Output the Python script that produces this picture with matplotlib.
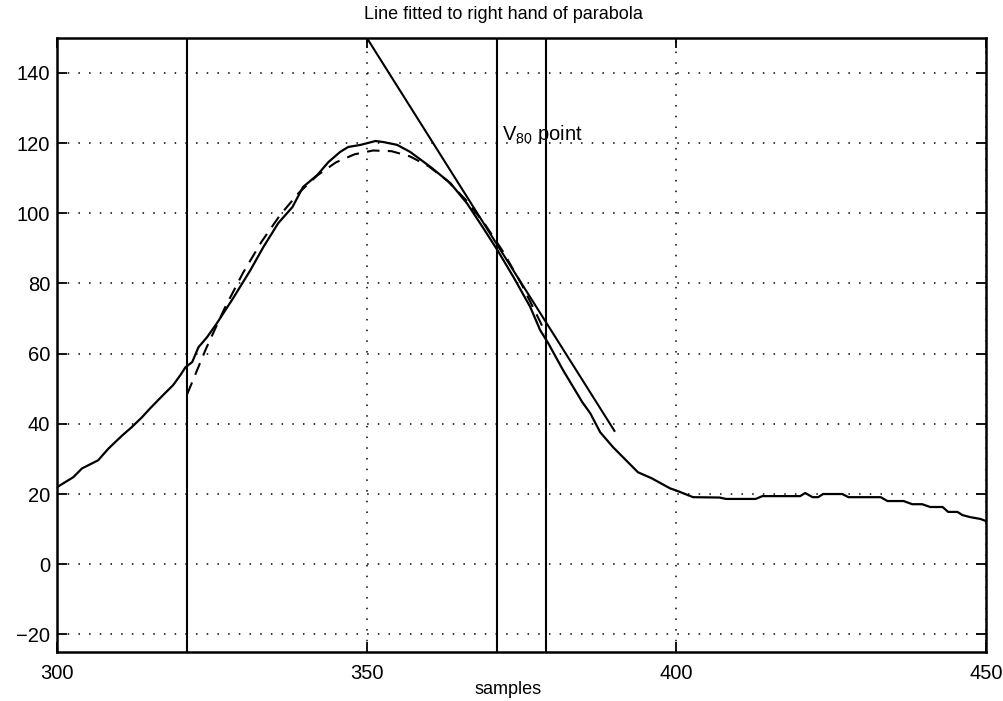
import matplotlib.pyplot as plt

plt.rcParams['font.family'] = ['Liberation Sans', 'DejaVu Sans']
plt.rcParams['mathtext.default'] = 'regular'

# --[measured signal]----------------------------------------------------------
sample_x = [300, 302.6, 304, 306.6, 308.3, 310.5, 312, 313.7, 315, 317.1,
            318.7, 319.9, 320.7, 321.8, 322.8, 324.2, 325.8, 328.3, 331.2, 333.3,
            335.7, 338, 339.7, 342, 343.8, 345.7, 347, 349, 351.4, 352.7,
            354.9, 357, 360.3, 363.5, 366.2, 368.7, 371.1, 373.7, 376.4, 378,
            379.3, 381.7, 384.8, 386.1, 387.7, 389.8, 393.8, 396, 399, 400,
            402.7, 407, 408, 410.3, 412.8, 413.9, 420, 420.8, 422, 422.9,
            423.7, 426.8, 427.8, 433, 434.1, 436.7, 438.1, 439.7, 441, 443,
            443.9, 445.4, 446.2, 447.5, 449.1, 450]
sample_y = [22, 24.8, 27.3, 29.6, 33, 36.7, 39, 41.9, 44.4, 48.2,
            51, 53.9, 56.1, 57.6, 61.8, 64.7, 68.7, 75.5, 83.8, 90.4,
            97.2, 101.8, 107.5, 110.9, 114.6, 117.5, 118.9, 119.5, 120.6, 120.3,
            119.5, 117.5, 113.2, 108.6, 102.8, 96.1, 89.5, 81.8, 73.3, 66.7,
            63, 55.3, 46.2, 43, 37.6, 33.3, 26.2, 24.5, 21.6, 21,
            19.1, 19, 18.6, 18.6, 18.6, 19.4, 19.4, 20.3, 19.1, 19.1,
            20, 20, 19.1, 19.1, 18, 18, 17.1, 17.1, 16.3, 16.3,
            14.9, 14.9, 14, 13.4, 12.9, 12.3]

# --[parabola fit between the outer markers]-----------------------------------
para_x = [321, 324, 327, 330, 333, 336, 339, 342, 345, 348, 351, 354, 357,
          360, 363, 366, 369, 372, 375, 378, 379]
para_y = [48.5, 61.3, 72.8, 83, 91.9, 99.5, 105.8, 110.8, 114.5, 116.8, 117.9,
          117.7, 116.2, 113.4, 109.3, 103.8, 97.1, 89.1, 79.8, 69.1, 65.3]

# --[straight line on the falling side]----------------------------------------
line_x = [350, 390]
line_y = [150, 38]

# --[marker positions]---------------------------------------------------------
markers = [321, 371, 379]

xticks = [300, 350, 400, 450]
yticks = [-20, 0, 20, 40, 60, 80, 100, 120, 140]

# --[plot]---------------------------------------------------------------------
fig = plt.figure(figsize=(10.04, 7.01), dpi=100)
ax = fig.add_axes([0.057, 0.07, 0.925, 0.876])

for m in markers:
    ax.axvline(m, color='black', lw=1.5)
ax.plot(sample_x, sample_y, color='black', lw=1.6)
ax.plot(para_x, para_y, color='black', lw=1.5, linestyle=(0, (6, 4)))
ax.plot(line_x, line_y, color='black', lw=1.5)

ax.text(371.8, 120.8, r'V$_{80}$ point', fontsize=14.5, va='baseline')

ax.set_xlim(300, 450)
ax.set_ylim(-25, 150)
ax.set_xticks(xticks)
ax.set_yticks(yticks)
ax.grid(True, color='black', lw=1.1, linestyle=(0, (1, 6)))
ax.tick_params(direction='in', length=7, width=1.3, labelsize=14.5,
               top=True, right=True, pad=5)
ax.tick_params(axis='x', pad=9)
for s in ax.spines.values():
    s.set_linewidth(1.8)

# title and x label sit a little left of the axes centre
fig.text(0.501, 0.98, 'Line fitted to right hand of parabola', fontsize=13,
         ha='center', va='center')
fig.text(0.506, 0.016, 'samples', fontsize=13, ha='center', va='center')

fig.savefig('out.png', dpi=100)
